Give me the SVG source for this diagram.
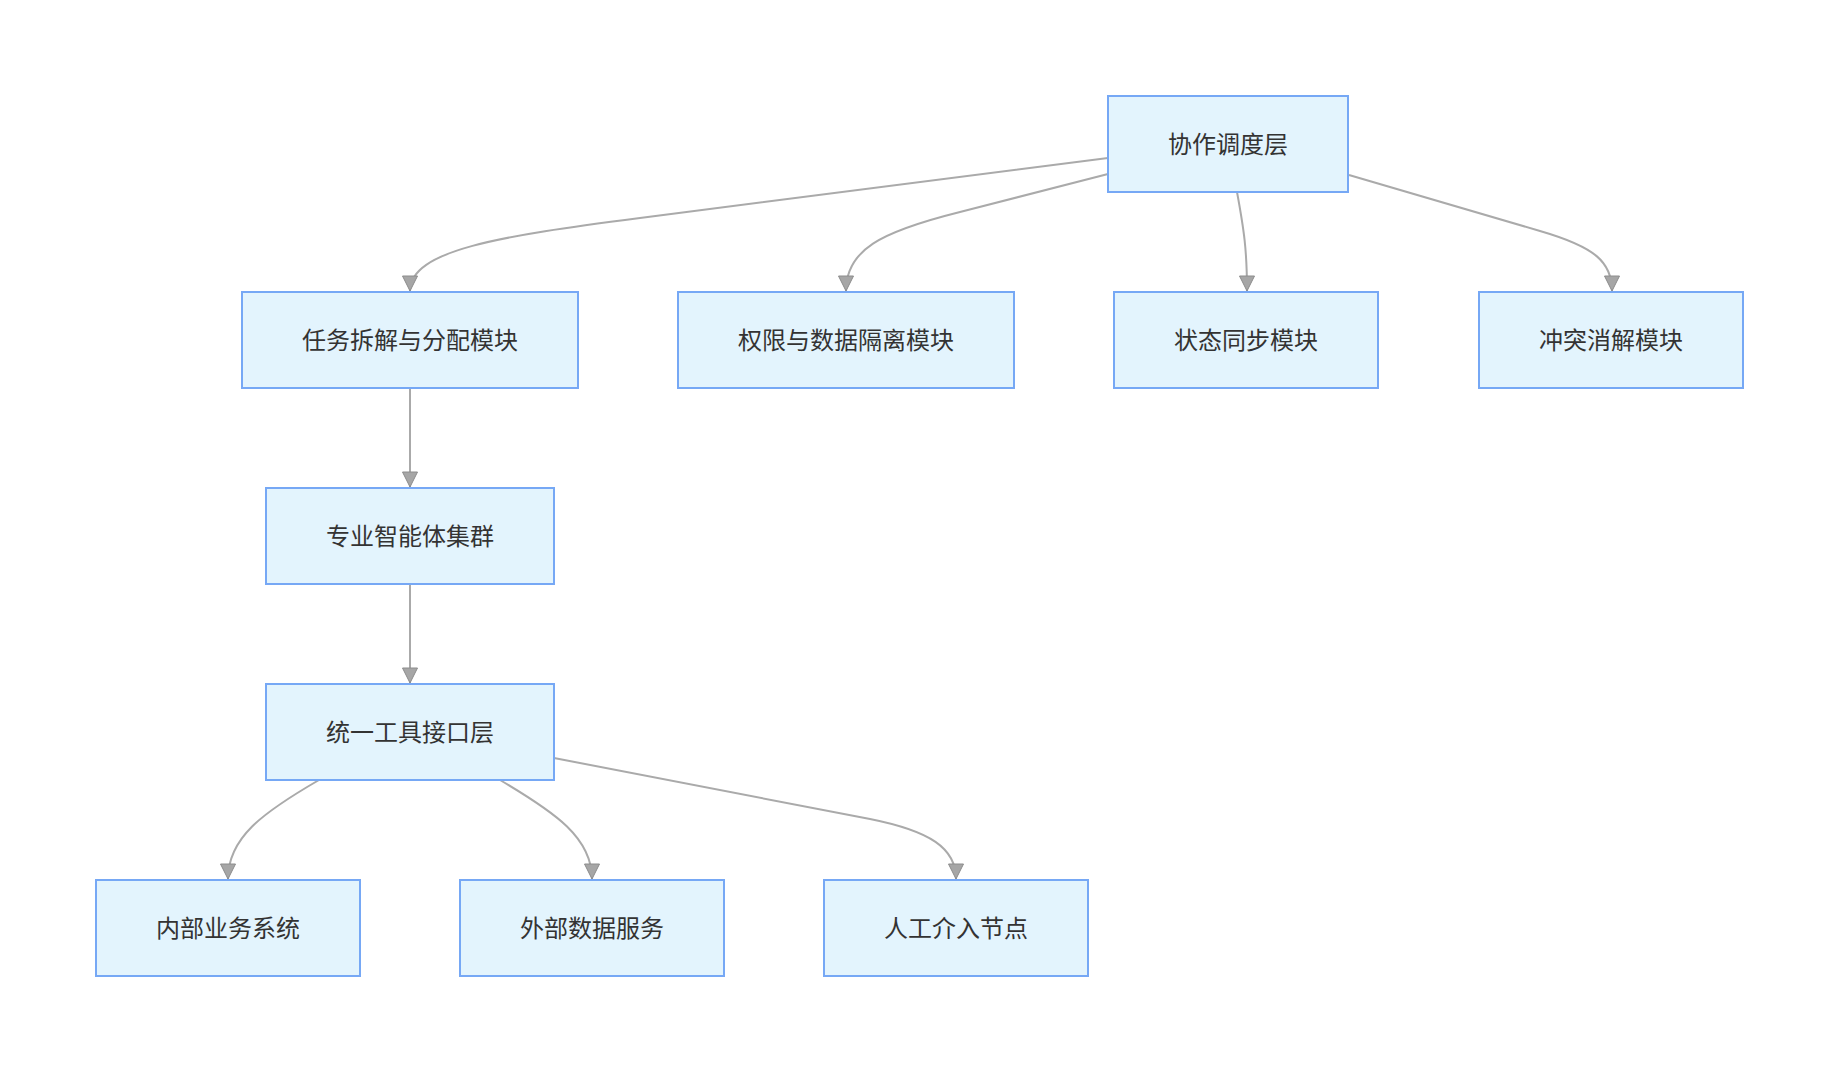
<svg xmlns="http://www.w3.org/2000/svg" width="1838" height="1072" viewBox="0 0 1838 1072">
<style>
.node rect{fill:#e3f4fd;stroke:#76a8f5;stroke-width:2}
.node text{font-family:"Noto Sans CJK SC","Noto Sans",sans-serif;font-size:24px;fill:#333333;text-anchor:middle;dominant-baseline:central}
.edge{fill:none;stroke:#aaaaaa;stroke-width:2;marker-end:url(#arrow)}
</style>
<defs>
<marker id="arrow" markerUnits="userSpaceOnUse" markerWidth="18" markerHeight="18" viewBox="-1 -1 18 18" refX="15" refY="7.5" orient="auto">
<path d="M0,0 L15,7.5 L0,15 Z" fill="#a6a6a6" stroke="#8c8c8c" stroke-width="1"/>
</marker>
</defs>
<rect width="1838" height="1072" fill="#ffffff"/>
<g id="connectors">
<path class="edge" d="M1108,158 L640,218 C500,236 410,250 410,291"/>
<path class="edge" d="M1108,174 L960,212 C880,232 846,250 846,291"/>
<path class="edge" d="M1237,192 C1244,230 1247,250 1247,291"/>
<path class="edge" d="M1349,175 L1540,231 C1595,247 1612,262 1612,291"/>
<path class="edge" d="M410,388 L410,487"/>
<path class="edge" d="M410,584 L410,683"/>
<path class="edge" d="M319,780 C262,813 228,838 228,879"/>
<path class="edge" d="M500,780 C556,813 592,838 592,879"/>
<path class="edge" d="M554,758 L870,819 C930,831 956,848 956,879"/>
</g>
<g id="n-coord" class="node"><rect x="1108" y="96" width="240" height="96"/><text x="1228" y="142">协作调度层</text></g>
<g id="n-task" class="node"><rect x="242" y="292" width="336" height="96"/><text x="410" y="338">任务拆解与分配模块</text></g>
<g id="n-perm" class="node"><rect x="678" y="292" width="336" height="96"/><text x="846" y="338">权限与数据隔离模块</text></g>
<g id="n-state" class="node"><rect x="1114" y="292" width="264" height="96"/><text x="1246" y="338">状态同步模块</text></g>
<g id="n-conflict" class="node"><rect x="1479" y="292" width="264" height="96"/><text x="1611" y="338">冲突消解模块</text></g>
<g id="n-agents" class="node"><rect x="266" y="488" width="288" height="96"/><text x="410" y="534">专业智能体集群</text></g>
<g id="n-tools" class="node"><rect x="266" y="684" width="288" height="96"/><text x="410" y="730">统一工具接口层</text></g>
<g id="n-internal" class="node"><rect x="96" y="880" width="264" height="96"/><text x="228" y="926">内部业务系统</text></g>
<g id="n-external" class="node"><rect x="460" y="880" width="264" height="96"/><text x="592" y="926">外部数据服务</text></g>
<g id="n-human" class="node"><rect x="824" y="880" width="264" height="96"/><text x="956" y="926">人工介入节点</text></g>
</svg>
